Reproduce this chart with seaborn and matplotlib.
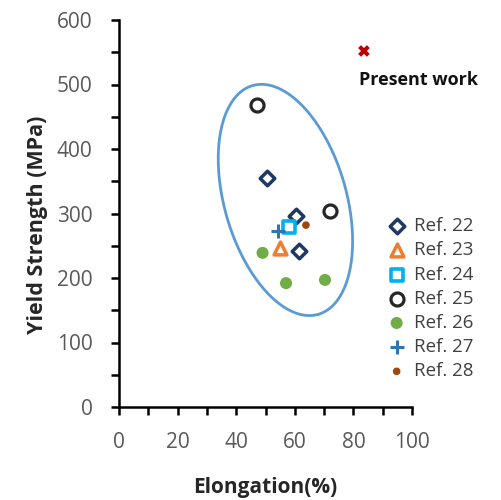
import numpy as np
import pandas as pd
import matplotlib
matplotlib.use("Agg")
import matplotlib.pyplot as plt
from matplotlib.ticker import MultipleLocator
import seaborn as sns

# values
ref_names = ["Ref. 22", "Ref. 23", "Ref. 24", "Ref. 25", "Ref. 26", "Ref. 27", "Ref. 28"]
ref22_elong = [50.4, 60.4, 61.5]
ref22_ys = [355, 296, 242]
ref23_elong = [55.0]
ref23_ys = [247]
ref24_elong = [58.0]
ref24_ys = [279]
ref25_elong = [47.0, 72.0]
ref25_ys = [468, 304]
ref26_elong = [49.0, 57.0, 70.3]
ref26_ys = [239, 192, 197]
ref27_elong = [54.4]
ref27_ys = [273]
ref28_elong = [63.8]
ref28_ys = [282]
present_elong = [83.6]
present_ys = [552]

elong_all = [ref22_elong, ref23_elong, ref24_elong, ref25_elong, ref26_elong, ref27_elong, ref28_elong]
ys_all = [ref22_ys, ref23_ys, ref24_ys, ref25_ys, ref26_ys, ref27_ys, ref28_ys]

rows = []
for name, xs, ys in zip(ref_names, elong_all, ys_all):
    for x, y in zip(xs, ys):
        rows.append({"ref": name, "elong": x, "ys": y})
df = pd.DataFrame(rows)

# marker style per reference: (marker, color, size, filled, edge width)
styles = {
    "Ref. 22": ("D", "#1F3864", 55, False, 2.5),
    "Ref. 23": ("^", "#ED7D31", 85, False, 2.5),
    "Ref. 24": ("s", "#00B0F0", 75, False, 2.6),
    "Ref. 25": ("o", "#262626", 88, False, 2.3),
    "Ref. 26": ("o", "#70AD47", 75, True, 0),
    "Ref. 27": ("+", "#2E75B6", 110, True, 2.2),
    "Ref. 28": ("o", "#9E480E", 30, True, 0),
}

sns.set_style("white")
plt.rcParams["font.family"] = ["Open Sans", "DejaVu Sans"]

fig = plt.figure(figsize=(5.01, 5.0), dpi=100)
ax = fig.add_axes([119 / 501, 93 / 500, 293 / 501, 387 / 500])

for name in ref_names:
    marker, color, size, filled, lw = styles[name]
    sub = df[df["ref"] == name]
    if marker == "+":
        sns.scatterplot(data=sub, x="elong", y="ys", marker="+", s=size, color=color,
                        linewidth=lw, label=name, ax=ax, zorder=4)
    elif filled:
        sns.scatterplot(data=sub, x="elong", y="ys", marker=marker, s=size, color=color,
                        edgecolor="none", label=name, ax=ax, zorder=3)
    else:
        sns.scatterplot(data=sub, x="elong", y="ys", marker=marker, s=size,
                        facecolor="white", edgecolor=color, linewidth=lw,
                        label=name, ax=ax, zorder=3)

sns.scatterplot(x=present_elong, y=present_ys, marker="X", s=70, color="#C00000",
                edgecolor="none", ax=ax, zorder=4)
ax.text(82.0, 507, "Present work", fontsize=13, fontweight="bold", color="#111111",
        ha="left", va="center")

# ellipse around the literature data: centre in data units, semi-axes in pixels,
# major axis tilted from vertical (upper-left to lower-right)
cx, cy = 56.8, 321
a_px, b_px, tilt = 119, 61, np.deg2rad(16)
px_x, px_y = 293 / 100, 387 / 600
t = np.linspace(0, 2 * np.pi, 300)
u = a_px * np.cos(t)
v = b_px * np.sin(t)
ex = cx + (u * np.sin(tilt) + v * np.cos(tilt)) / px_x
ey = cy + (-u * np.cos(tilt) + v * np.sin(tilt)) / px_y
ax.plot(ex, ey, color="#5B9BD5", lw=2, zorder=2)

ax.set_xlim(0, 100)
ax.set_ylim(0, 600)
ax.xaxis.set_major_locator(MultipleLocator(20))
ax.xaxis.set_minor_locator(MultipleLocator(10))
ax.yaxis.set_major_locator(MultipleLocator(100))
ax.yaxis.set_minor_locator(MultipleLocator(50))
ax.tick_params(which="both", direction="out", length=6, width=1.8, color="black",
               labelsize=15, labelcolor="#595959", left=True, bottom=True)
ax.tick_params(axis="x", pad=12)
ax.tick_params(axis="y", pad=13)
for side in ["top", "right"]:
    ax.spines[side].set_visible(False)
for side in ["left", "bottom"]:
    ax.spines[side].set_color("black")
    ax.spines[side].set_linewidth(1.8)

ax.set_xlabel("Elongation(%)", fontsize=15, fontweight="bold", color="#262626")
ax.xaxis.label.set_va("center")
ax.xaxis.set_label_coords(146 / 293, -80 / 387)
ax.set_ylabel("Yield Strength (MPa)", fontsize=15.5, fontweight="bold", color="#262626")
ax.yaxis.label.set_va("center")
ax.yaxis.set_label_coords(-81 / 293, 0.47)

leg = ax.legend(loc="upper left", bbox_to_anchor=(0.89, 0.51), frameon=False,
                fontsize=13.5, labelcolor="#404040", handletextpad=0.45,
                labelspacing=0.33, borderaxespad=0, handlelength=1.0)

fig.savefig("out.png", dpi=100)
